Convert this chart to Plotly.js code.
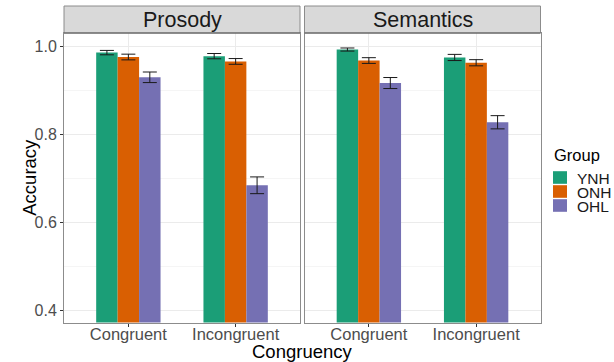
<!DOCTYPE html>
<html><head><meta charset="utf-8">
<script src="https://cdn.plot.ly/plotly-3.0.1.min.js"></script>
<style>html,body{margin:0;padding:0;background:#fff}#chart{width:614px;height:362px}</style>
</head><body><div id="chart"></div>
<script>
const categories = ['Congruent', 'Incongruent'];
const groups = ['YNH', 'ONH', 'OHL'];
const panels = ['Prosody', 'Semantics'];
// accuracy values [Congruent, Incongruent]
const prosodyYNH = [0.985, 0.977];
const prosodyONH = [0.975, 0.965];
const prosodyOHL = [0.929, 0.684];
const semanticsYNH = [0.992, 0.974];
const semanticsONH = [0.967, 0.962];
const semanticsOHL = [0.916, 0.827];
// standard errors
const prosodyYNHse = [0.005, 0.006];
const prosodyONHse = [0.0065, 0.0065];
const prosodyOHLse = [0.012, 0.019];
const semanticsYNHse = [0.0035, 0.007];
const semanticsONHse = [0.0065, 0.007];
const semanticsOHLse = [0.0125, 0.015];
const colors = ['#1B9E77', '#D95F02', '#7570B3'];

const panelData = [
  [prosodyYNH, prosodyONH, prosodyOHL],
  [semanticsYNH, semanticsONH, semanticsOHL]
];
const panelSE = [
  [prosodyYNHse, prosodyONHse, prosodyOHLse],
  [semanticsYNHse, semanticsONHse, semanticsOHLse]
];

const FONT = 'Liberation Sans, Arial, sans-serif';
const traces = [];
panelData.forEach((pd, p) => {
  pd.forEach((vals, g) => {
    traces.push({
      type: 'bar', x: categories, y: vals, name: groups[g],
      legendgroup: groups[g], showlegend: false,
      xaxis: p === 0 ? 'x' : 'x2', yaxis: p === 0 ? 'y' : 'y2',
      marker: {color: colors[g], line: {width: 0}},
      error_y: {type: 'data', array: panelSE[p][g], visible: true, color: '#1a1a1a', thickness: 1, width: 7},
      hoverinfo: 'skip'
    });
  });
});

const W = 614, H = 362;
const L1 = 64 / W, R1 = 300 / W, L2 = 304.5 / W, R2 = 540.5 / W;
const yBot = 1 - 322.5 / H, yTop = 1 - 33 / H, stripTop = 1 - 6 / H;
const gridC = '#EBEBEB', borderC = '#8C8C8C';

const xax = (dom) => ({
  domain: dom, type: 'category', range: [-0.6, 1.6],
  showgrid: true, gridcolor: gridC, gridwidth: 1,
  ticks: 'outside', ticklen: 3, tickcolor: '#333', tickwidth: 1,
  ticklabelstandoff: -6,
  tickfont: {family: FONT, size: 16.5, color: '#4D4D4D'},
  showline: true, mirror: true, linecolor: borderC, linewidth: 1,
  zeroline: false, fixedrange: true, automargin: false
});
const yax = (showLabels, anchor) => ({
  domain: [yBot, yTop], range: [0.3727, 1.0295], anchor: anchor,
  tick0: 0.4, dtick: 0.2, tickformat: '.1f',
  showticklabels: showLabels,
  ticks: showLabels ? 'outside' : '', ticklen: 3, tickcolor: '#333',
  tickfont: {family: FONT, size: 16, color: '#4D4D4D'},
  showgrid: true, gridcolor: gridC, gridwidth: 1,
  minor: {dtick: 0.1, tick0: 0.4, showgrid: true, gridcolor: '#F5F5F5', gridwidth: 1},
  showline: true, mirror: true, linecolor: borderC, linewidth: 1,
  zeroline: false, fixedrange: true, automargin: false
});

const shapes = [
  {type: 'rect', xref: 'paper', yref: 'paper', x0: L1, x1: R1, y0: yTop, y1: stripTop,
   fillcolor: '#D9D9D9', line: {color: borderC, width: 1}},
  {type: 'rect', xref: 'paper', yref: 'paper', x0: L2, x1: R2, y0: yTop, y1: stripTop,
   fillcolor: '#D9D9D9', line: {color: borderC, width: 1}},
  {type: 'line', xref: 'paper', yref: 'paper', x0: L1, x1: R1, y0: yTop, y1: yTop, line: {color: '#555', width: 1}},
  {type: 'line', xref: 'paper', yref: 'paper', x0: L2, x1: R2, y0: yTop, y1: yTop, line: {color: '#555', width: 1}}
];
const annotations = [
  {text: panels[0], xref: 'paper', yref: 'paper', x: (L1 + R1) / 2, y: 1 - 19.5 / H,
   xanchor: 'center', yanchor: 'middle', showarrow: false, font: {family: FONT, size: 21.5, color: '#1a1a1a'}},
  {text: panels[1], xref: 'paper', yref: 'paper', x: (L2 + R2) / 2, y: 1 - 19.5 / H,
   xanchor: 'center', yanchor: 'middle', showarrow: false, font: {family: FONT, size: 21.5, color: '#1a1a1a'}},
  {text: 'Congruency', xref: 'paper', yref: 'paper', x: (L1 + R2) / 2, y: 1 - 351 / H,
   xanchor: 'center', yanchor: 'middle', height: 21, valign: 'middle', borderpad: 0,
   showarrow: false, font: {family: FONT, size: 18.5, color: '#000'}},
  {text: 'Accuracy', xref: 'paper', yref: 'paper', x: 30 / W, y: (yBot + yTop) / 2,
   xanchor: 'center', yanchor: 'middle', textangle: -90, showarrow: false, font: {family: FONT, size: 18.5, color: '#000'}},
  {text: 'Group', xref: 'paper', yref: 'paper', x: 552 / W, y: 1 - 155 / H,
   xanchor: 'left', yanchor: 'middle', showarrow: false, font: {family: FONT, size: 16.5, color: '#000'}}
];
// legend keys (manual, ggplot style)
groups.forEach((g, i) => {
  const top = 170.5 + i * 14, bot = top + 14;
  shapes.push({type: 'rect', xref: 'paper', yref: 'paper', x0: 553 / W, x1: 567 / W,
    y0: 1 - (bot - 0.7) / H, y1: 1 - (top + 0.7) / H, fillcolor: colors[i], line: {width: 0}});
  annotations.push({text: g, xref: 'paper', yref: 'paper', x: 576 / W, y: 1 - (top + 7) / H,
    xanchor: 'left', yanchor: 'middle', height: 14, valign: 'middle', borderpad: 0, showarrow: false,
    font: {family: FONT, size: 15.5, color: '#1a1a1a'}});
});

const layout = {
  width: W, height: H, margin: {l: 0, r: 0, t: 0, b: 0, autoexpand: false},
  paper_bgcolor: '#fff', plot_bgcolor: '#fff',
  barmode: 'group', bargap: 0.4, bargroupgap: 0,
  font: {family: FONT, color: '#000'},
  xaxis: xax([L1, R1]),
  xaxis2: xax([L2, R2]),
  yaxis: yax(true, 'x'),
  yaxis2: Object.assign(yax(false, 'x2'), {matches: 'y'}),
  showlegend: false,
  shapes: shapes,
  annotations: annotations
};

Plotly.newPlot('chart', traces, layout, {staticPlot: true, displayModeBar: false});
</script>
</body></html>
